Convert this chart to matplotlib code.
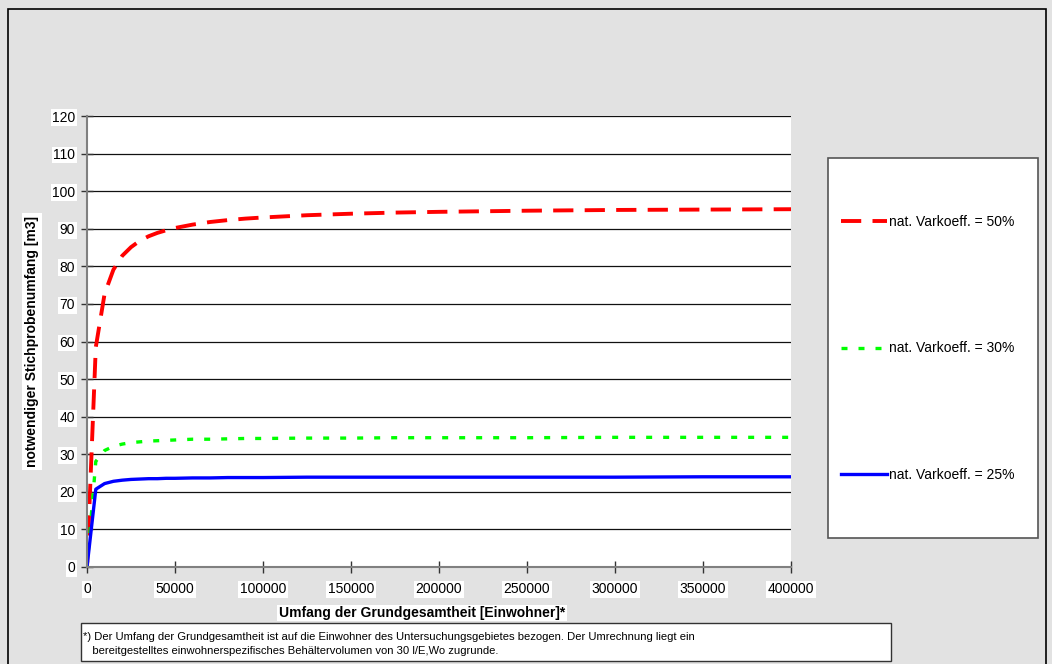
import matplotlib.pyplot as plt
from matplotlib.patches import Rectangle

plt.rcParams['font.family'] = ['Liberation Sans', 'DejaVu Sans']

# Umfang der Grundgesamtheit [Einwohner]
einwohner = [0, 5000, 10000, 15000, 20000, 25000, 30000, 35000, 40000, 45000,
             50000, 60000, 70000, 80000, 90000, 100000, 125000, 150000, 175000,
             200000, 250000, 300000, 350000, 400000]

# notwendiger Stichprobenumfang [m3]
vk_50 = [0, 58.5, 72.7, 79.1, 82.8, 85.1, 86.8, 88.0, 88.9, 89.6,
         90.2, 91.1, 91.8, 92.3, 92.7, 93.0, 93.6, 94.0, 94.3,
         94.5, 94.8, 95.0, 95.1, 95.2]
vk_30 = [0, 28.1, 31.0, 32.1, 32.7, 33.1, 33.3, 33.5, 33.6, 33.7,
         33.8, 34.0, 34.0, 34.1, 34.2, 34.2, 34.3, 34.3, 34.4,
         34.4, 34.4, 34.5, 34.5, 34.5]
vk_25 = [0, 20.7, 22.2, 22.8, 23.1, 23.3, 23.4, 23.5, 23.5, 23.6,
         23.6, 23.7, 23.7, 23.8, 23.8, 23.8, 23.9, 23.9, 23.9,
         23.9, 23.9, 23.9, 24.0, 24.0]

labels = ['nat. Varkoeff. = 50%', 'nat. Varkoeff. = 30%', 'nat. Varkoeff. = 25%']

W, H = 1052, 664
fig = plt.figure(figsize=(W / 100, H / 100), dpi=100, facecolor='#e2e2e2')

# outer chart frame
fig.patches.append(Rectangle((8 / W, -5 / H), 1038 / W, 660 / H, transform=fig.transFigure,
                             fill=False, edgecolor='black', lw=1.2))

ax = fig.add_axes([87 / W, 1 - 567 / H, 704 / W, 451 / H])
ax.set_facecolor('white')

l1, = ax.plot(einwohner, vk_50, color='#ff0000', lw=2.8, dashes=(5.2, 2.9), solid_capstyle='butt')
l2, = ax.plot(einwohner, vk_30, color='#00ff00', lw=2.4, dashes=(1.8, 3.3))
l3, = ax.plot(einwohner, vk_25, color='#0000ff', lw=2.4)

ax.set_xlim(0, 400000)
ax.set_ylim(0, 120)
ax.set_xticks(range(0, 400001, 50000))
ax.set_yticks(range(0, 121, 10))
ax.yaxis.grid(True, color='#111111', lw=0.9)
ax.set_axisbelow(True)
for side in ['top', 'right']:
    ax.spines[side].set_visible(False)
for side in ['left', 'bottom']:
    ax.spines[side].set_color('#808080')
    ax.spines[side].set_linewidth(1.5)
ax.tick_params(direction='inout', length=9, width=1, color='#333333', labelsize=10)
ax.tick_params(axis='x', pad=6.5)
ax.tick_params(axis='y', pad=4)
for lab in ax.get_xticklabels() + ax.get_yticklabels():
    lab.set_bbox(dict(facecolor='white', edgecolor='none', pad=1))

ax.set_ylabel('notwendiger Stichprobenumfang [m3]', fontsize=10, fontweight='bold',
              bbox=dict(facecolor='white', edgecolor='none', pad=2))
ax.yaxis.set_label_coords(-48 / 704, 0.5)
fig.text(422 / W, 1 - 613 / H, 'Umfang der Grundgesamtheit [Einwohner]*', fontsize=10,
         fontweight='bold', ha='center', va='center',
         bbox=dict(facecolor='white', edgecolor='none', pad=1))

# legend box
fig.patches.append(Rectangle((828 / W, 1 - 538 / H), 210 / W, 380 / H, transform=fig.transFigure,
                             facecolor='white', edgecolor='#555555', lw=1.2))
fig.legend([l1, l2, l3], labels, loc='upper left', bbox_to_anchor=(841 / W, 1 - 215 / H),
           frameon=False, fontsize=10, handlelength=3.3, handletextpad=0.15,
           labelspacing=8.1, borderpad=0, borderaxespad=0)

# footnote box
fig.patches.append(Rectangle((81 / W, 1 - 661 / H), 810 / W, 38 / H, transform=fig.transFigure,
                             facecolor='white', edgecolor='#333333', lw=1.0))
fig.text(83 / W, 1 - 644 / H,
         '*) Der Umfang der Grundgesamtheit ist auf die Einwohner des Untersuchungsgebietes bezogen. '
         'Der Umrechnung liegt ein\n'
         '   bereitgestelltes einwohnerspezifisches Behältervolumen von 30 l/E,Wo zugrunde.',
         fontsize=8.1, va='center', ha='left', linespacing=1.45)

fig.savefig('out.png', dpi=100, facecolor=fig.get_facecolor())
